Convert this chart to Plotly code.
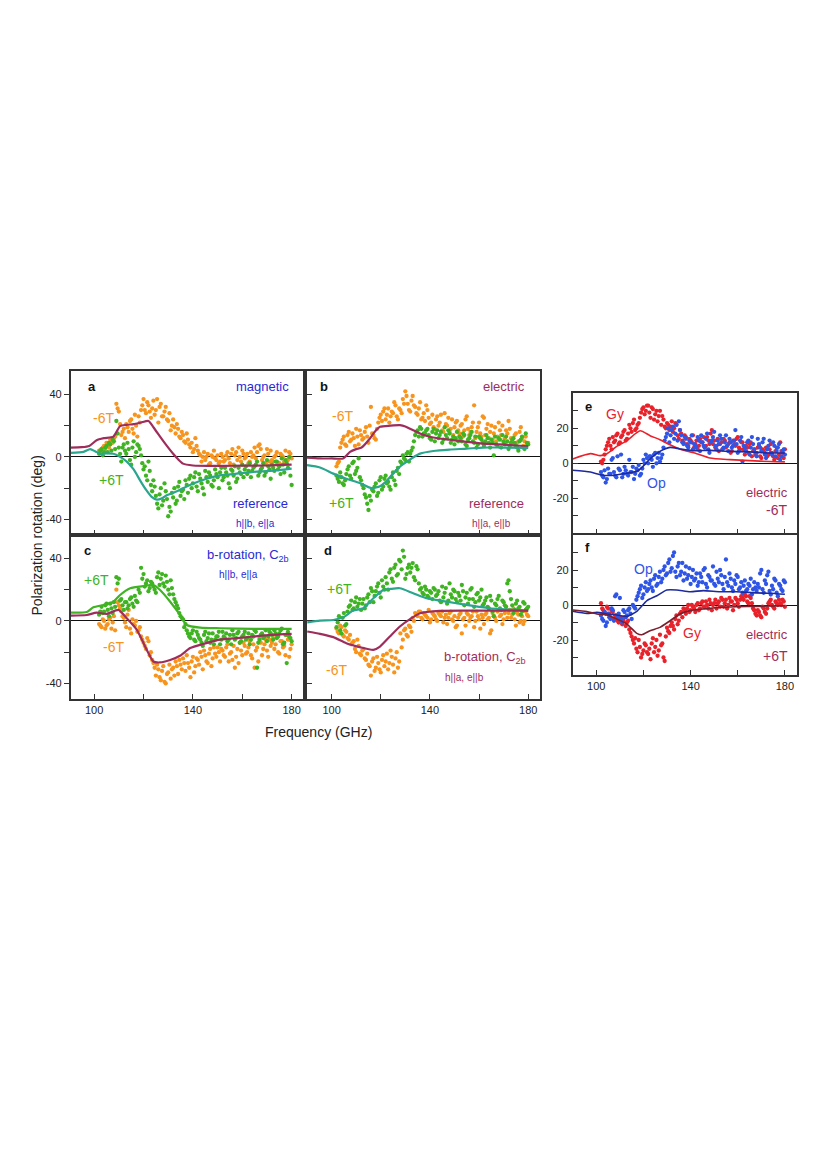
import plotly.graph_objects as go

# ---------------------------------------------------------------------------
# DATA

# measurement frequencies (GHz): whole-GHz readings and the half-GHz readings
freq = [102, 103, 104, 105, 106, 107, 108, 109, 110, 111,
        112, 113, 114, 115, 116, 117, 118, 119, 120, 121,
        122, 123, 124, 125, 126, 127, 128, 129, 130, 131,
        132, 133, 134, 135, 136, 137, 138, 139, 140, 141,
        142, 143, 144, 145, 146, 147, 148, 149, 150, 151,
        152, 153, 154, 155, 156, 157, 158, 159, 160, 161,
        162, 163, 164, 165, 166, 167, 168, 169, 170, 171,
        172, 173, 174, 175, 176, 177, 178, 179, 180]
freq_h = [102.5, 103.5, 104.5, 105.5, 106.5, 107.5, 108.5, 109.5, 110.5, 111.5,
          112.5, 113.5, 114.5, 115.5, 116.5, 117.5, 118.5, 119.5, 120.5, 121.5,
          122.5, 123.5, 124.5, 125.5, 126.5, 127.5, 128.5, 129.5, 130.5, 131.5,
          132.5, 133.5, 134.5, 135.5, 136.5, 137.5, 138.5, 139.5, 140.5, 141.5,
          142.5, 143.5, 144.5, 145.5, 146.5, 147.5, 148.5, 149.5, 150.5, 151.5,
          152.5, 153.5, 154.5, 155.5, 156.5, 157.5, 158.5, 159.5, 160.5, 161.5,
          162.5, 163.5, 164.5, 165.5, 166.5, 167.5, 168.5, 169.5, 170.5, 171.5,
          172.5, 173.5, 174.5, 175.5, 176.5, 177.5, 178.5, 179.5]

# panel a : magnetic / reference
a_m6 = [4, 5, 7, 9, 6, 10, 12, 34, 29, 14,
        18, 21, 16, 24, 15, 20, 26, 30, 37, 28,
        33, 25, 36, 30, 22, 34, 26, 32, 23, 17,
        24, 15, 18, 12, 14, 9, 11, 6, 3, 12,
        4, 1, 0, -2, 2, -4, 0, -1, 1, -3,
        0, -2, 3, -4, 5, 1, -2, 0, 4, -1,
        2, -3, 0, 6, 3, 8, -2, 1, 5, -3,
        -2, 0, 3, -4, 1, -3, -2, 3, -1]
a_m6_h = [3, 6, 5, 8, 11, 9, 13, 31, 21, 16,
          12, 19, 23, 18, 27, 13, 22, 33, 30, 35,
          29, 31, 27, 37, 32, 26, 29, 24, 28, 20,
          19, 21, 13, 16, 10, 15, 8, 9, 5, 7,
          2, -3, 3, 0, -5, 1, 4, -2, -4, 2,
          -3, 1, -1, 2, -5, 3, 6, -3, 2, 0,
          -4, 3, 1, -1, 7, 5, 0, -4, 2, 4,
          -3, 1, -5, 2, 0, 4, -2, 2]
a_p6 = [2, 5, 3, 7, 9, 4, 10, 23, 6, -3,
        8, 2, 5, -5, 10, 3, 7, 1, -8, -12,
        -3, -18, -15, -25, -33, -20, -28, -22, -38, -35,
        -26, -30, -19, -25, -21, -15, -23, -12, -17, -10,
        -22, -14, -20, -9, -16, -12, -19, -8, -13, -10,
        -15, -7, -12, -20, -9, -6, -14, -10, -5, -8,
        -11, -4, -9, -6, -3, -10, -7, -12, -2, -8,
        -5, -9, -3, -6, -1, -10, -4, 0, -18]
a_p6_h = [4, 1, 6, 3, 8, 11, 5, 15, 2, 6,
          4, 9, -2, 6, 0, 8, 5, -4, -6, -15,
          -9, -22, -19, -30, -24, -31, -17, -27, -32, -23,
          -20, -28, -16, -22, -27, -18, -14, -20, -13, -19,
          -11, -17, -24, -13, -10, -18, -15, -11, -20, -7,
          -13, -10, -17, -8, -12, -16, -7, -11, -13, -6,
          -9, -13, -7, -5, -12, -8, -4, -10, -6, -14,
          -7, -3, -8, -11, -5, -2, -7, -12]
a_fit_m6_x = [90.5, 95, 98, 101, 104, 107.8, 110.5, 113, 116, 119, 122, 124,
              126.7, 129, 132, 134, 136, 140, 150, 160, 170, 180]
a_fit_m6_y = [6, 6.2, 7, 10.7, 12, 13, 19.7, 20.5, 21, 22, 23, 19,
              13, 8, 2, -1.5, -4.3, -5.5, -5.8, -5.6, -5.5, -5]
a_fit_p6_x = [90.5, 95.7, 98.4, 100.5, 102.4, 105, 107.8, 110.5, 113.2, 116,
              118.6, 121, 123.3, 125.4, 127.5, 129.4, 132, 134.8, 140.2, 145.6,
              151, 157.8, 164.5, 171.3, 180]
a_fit_p6_y = [2.6, 3.2, 5, 3.5, 2, 2.3, 2, 0, -3, -8,
              -15, -21, -25.6, -27.4, -26.5, -24.6, -23, -21, -17, -14,
              -11.8, -10.7, -9.6, -9, -7.5]

# panel b : electric / reference
b_m6 = [-6, -3, 9, 13, 7, 16, 11, 12, 18, 8,
        14, 12, 19, 9, 32, 14, 11, 22, 27, 29,
        24, 31, 26, 28, 33, 24, 30, 37, 42, 34,
        29, 39, 32, 27, 35, 25, 23, 30, 21, 27,
        18, 26, 22, 17, 28, 20, 16, 24, 19, 23,
        15, 21, 17, 26, 14, 19, 33, 16, 22, 13,
        25, 18, 12, 20, 15, 10, 22, 14, 9, 17,
        23, 12, 8, 15, 10, 19, 7, 13, 9]
b_m6_h = [-4, 6, 11, 8, 14, 10, 15, 7, 13, 17,
          11, 16, 13, 20, 15, 12, 18, 25, 23, 31,
          27, 22, 29, 35, 26, 31, 28, 34, 39, 30,
          36, 33, 28, 31, 24, 28, 33, 25, 22, 19,
          24, 20, 27, 16, 21, 25, 18, 14, 22, 17,
          20, 13, 24, 18, 16, 22, 12, 19, 15, 26,
          14, 21, 16, 11, 19, 13, 17, 20, 12, 15,
          18, 11, 14, 9, 16, 12, 10, 8]
b_p6 = [-12, -16, -13, -18, -11, -6, -14, -3, -9, -1,
        -15, -20, -26, -34, -28, -22, -17, -23, -13, -19,
        -12, -16, -21, -10, -18, -7, -3, 1, -2, 3,
        2, 6, 14, 17, 19, 13, 15, 18, 12, 16,
        10, 17, 14, 9, 19, 12, 15, 11, 8, 16,
        13, 10, 14, 7, 12, 16, 9, 6, 13, 11,
        7, 14, 9, 11, 1, 8, 12, 6, 10, 13,
        5, 9, 12, 7, 4, 11, 6, 15, 8]
b_p6_h = [-14, -10, -17, -15, -8, -12, -4, -11, -7, -13,
          -18, -24, -30, -25, -21, -19, -25, -15, -21, -14,
          -17, -19, -13, -15, -9, -11, -4, -1, 2, -3,
          4, 10, 16, 13, 18, 15, 17, 14, 11, 18,
          15, 12, 16, 11, 14, 17, 9, 13, 12, 10,
          12, 15, 8, 11, 14, 10, 13, 8, 12, 9,
          10, 12, 6, 9, 13, 7, 11, 14, 8, 10,
          7, 11, 9, 6, 10, 13, 5, 9]
b_fit_m6_x = [90, 95, 100, 104.7, 107.5, 110, 112.2, 115.6, 117.5, 119.7, 124, 127.8,
              130, 131.9, 134, 136, 138.5, 141.4, 148, 155, 161.7, 168.5, 175, 180]
b_fit_m6_y = [-0.5, -1, -1, -1, 3.2, 5, 6, 11.8, 16, 19.3, 20, 20.3,
              19.5, 18, 16.5, 15, 13.5, 12.4, 11, 9.6, 8.5, 8, 7.3, 6.8]
b_fit_p6_x = [90, 95.3, 100.7, 106, 111.5, 116.3, 119.7, 122, 125, 128,
              130.5, 133, 136, 141.4, 148, 155, 161.7, 168.5, 180]
b_fit_p6_y = [-5.3, -6.8, -10.7, -14, -16.7, -20, -18.8, -16, -10.7, -6,
              -3.2, -0.5, 2.1, 3.8, 4.7, 5.3, 6, 6, 5.8]

# panel c : b-rotation, h||b e||a
c_p6 = [4, 9, 6, 11, 3, 8, 12, 28, 27, 14,
        7, 12, 10, 15, 9, 13, 20, 34, 30, 24,
        19, 25, 22, 18, 31, 27, 24, 29, 20, 26,
        17, 12, 8, 3, 1, -2, -8, -11, -6, -13,
        -9, -12, -16, -7, -11, -14, -8, -12, -10, -15,
        -7, -11, -13, -9, -6, -12, -8, -14, -10, -7,
        -11, -15, -9, -6, -30, -12, -8, -10, -13, -7,
        -9, -6, -11, -8, -5, -14, -27, -10, -13]
c_p6_h = [6, 5, 10, 7, 11, 5, 9, 24, 13, 10,
          12, 8, 14, 11, 16, 12, 18, 27, 22, 26,
          21, 24, 20, 28, 23, 30, 22, 25, 17, 21,
          14, 10, 5, 2, -4, -6, -10, -8, -12, -7,
          -11, -14, -9, -13, -8, -12, -15, -10, -7, -12,
          -10, -8, -12, -15, -9, -11, -7, -13, -9, -12,
          -8, -12, -10, -7, -14, -9, -11, -6, -10, -8,
          -12, -8, -10, -6, -15, -9, -7, -11]
c_m6 = [-2, -4, 0, -3, 1, -5, 3, 20, 10, 6,
        2, -4, 7, -8, -2, 0, -6, -10, -14, -18,
        -13, -20, -27, -35, -31, -38, -29, -40, -33, -37,
        -30, -26, -34, -28, -24, -32, -27, -36, -23, -29,
        -25, -20, -31, -22, -27, -18, -24, -21, -17, -26,
        -19, -23, -15, -21, -25, -30, -18, -14, -22, -16,
        -20, -13, -24, -30, -17, -11, -22, -15, -19, -12,
        -14, -18, -10, -21, -13, -16, -9, -23, -15]
c_m6_h = [-3, 1, -5, -2, 2, -1, -6, 12, 8, 3,
          -1, 4, -5, 1, -3, -7, -4, -12, -16, -11,
          -22, -25, -30, -28, -36, -32, -39, -34, -28, -31,
          -35, -29, -25, -31, -27, -22, -30, -26, -33, -24,
          -28, -23, -19, -26, -21, -29, -17, -23, -20, -18,
          -22, -17, -26, -20, -16, -23, -27, -19, -14, -21,
          -17, -22, -15, -19, -26, -14, -18, -12, -23, -16,
          -11, -15, -20, -13, -17, -22, -12, -18]
c_fit_p6_x = [90.5, 97, 99.7, 103.8, 107.8, 110.5, 114.6, 120, 124, 126.7,
              130.8, 134.8, 137.5, 143, 151, 164.5, 180]
c_fit_p6_y = [5.3, 5.7, 8.7, 10.2, 12.3, 16.6, 20.9, 22.3, 23, 19.8,
              12.3, 3.8, -2.6, -4.3, -4.7, -5.1, -5.1]
c_fit_m6_x = [90.5, 97, 101, 105, 109.9, 113.2, 117.3, 121.3, 124, 126.7,
              130.8, 134.8, 138.9, 144.3, 151, 157.8, 164.5, 171.3, 180]
c_fit_m6_y = [3.4, 3.8, 5.3, 4.5, 7, 1.7, -5.7, -18.5, -26, -26.6,
              -25, -22.3, -17.4, -14.7, -12, -11, -10, -9, -8.3]

# panel d : b-rotation, h||a e||b
d_p6 = [-4, 3, -8, 5, -2, 9, 13, 8, 15, 11,
        7, 14, 10, 17, 21, 12, 19, 24, 15, 22,
        28, 20, 33, 25, 36, 30, 38, 45, 27, 34,
        31, 37, 26, 33, 20, 18, 22, 16, 19, 14,
        20, 17, 13, 22, 18, 11, 24, 15, 19, 12,
        16, 23, 10, 18, 14, 21, 9, 17, 13, 20,
        11, 15, 8, 13, 3, 10, 16, 7, 12, 9,
        26, 14, 5, 11, 8, 4, 12, 7, 9]
d_p6_h = [-1, -6, 2, -3, 6, 10, 7, 12, 9, 14,
          11, 8, 15, 12, 19, 16, 22, 18, 26, 20,
          24, 31, 27, 34, 29, 39, 33, 41, 30, 36,
          34, 28, 35, 24, 21, 17, 20, 15, 18, 21,
          16, 19, 12, 15, 21, 13, 17, 20, 14, 18,
          13, 19, 15, 11, 20, 14, 12, 18, 15, 10,
          13, 9, 16, 6, 11, 14, 8, 13, 10, 24,
          19, 10, 7, 13, 9, 6, 11, 8]
d_m6 = [-5, -8, -4, -10, -7, -12, -15, -13, -20, -16,
        -22, -18, -25, -28, -35, -24, -30, -27, -33, -22,
        -26, -31, -19, -28, -24, -30, -8, -12, -5, -10,
        -4, 2, 5, 3, 6, 1, 4, 2, -1, 5,
        3, 0, 4, 6, 2, -2, 5, 1, 3, -3,
        4, -8, 2, 5, 0, 3, -4, 6, 1, 4,
        -2, 5, 2, -6, 3, 0, 7, 4, 1, 9,
        5, 2, 8, -3, 4, 0, -2, 6, 3]
d_m6_h = [-7, -3, -9, -6, -11, -9, -14, -18, -12, -21,
          -19, -24, -21, -29, -26, -32, -23, -31, -25, -29,
          -21, -27, -23, -33, -20, -26, -17, -6, -9, -3,
          -7, 0, 4, 6, 2, 5, 3, 7, 1, 4,
          1, 5, 3, -1, 4, 2, 6, 0, -4, 2,
          5, 1, -3, 4, 2, 6, 0, 3, -5, 2,
          4, 1, -8, 5, 2, 6, 3, -2, 5, 2,
          7, 4, 1, 5, -1, 3, 0, 4]
d_fit_p6_x = [90.1, 95.3, 100.7, 104.7, 108.8, 112.9, 117, 121, 124, 127.8,
              133.2, 138.6, 144, 150.8, 157.6, 164.4, 171.2, 180]
d_fit_p6_y = [-0.9, 0.2, 0.6, 2.3, 6.6, 8.1, 14.5, 19.8, 20.5, 20.9,
              17.7, 14.5, 13, 11.3, 9.6, 8.1, 7.4, 6.4]
d_fit_m6_x = [90.1, 95.3, 100.7, 106, 111.5, 117, 119.7, 123.7, 127.8, 131.9,
              136, 144, 155, 180]
d_fit_m6_y = [-6.8, -8.3, -10.4, -14.3, -16.8, -18.5, -16.4, -10, -3.6, 1.1,
              4.9, 6.4, 6.6, 6.6]

# panel e : electric -6T, Gy / Op
e_gy = [1, 2, 8, 12, 10, 15, 13, 17, 12, 16,
        19, 14, 22, 18, 25, 20, 23, 29, 32, 30,
        33, 26, 31, 28, 24, 30, 27, 21, 23, 19,
        24, 20, 22, 14, 17, 12, 15, 10, 13, 16,
        11, 8, 14, 12, 9, 15, 11, 19, 13, 10,
        7, 12, 14, 9, 11, 6, 13, 10, 15, 8,
        12, 5, 9, 11, 4, 8, 6, 10, 3, 7,
        9, 5, 11, 4, 7, 3, 12, 6, 8]
e_gy_h = [0, 5, 10, 14, 8, 12, 16, 11, 15, 18,
          13, 17, 20, 23, 19, 22, 26, 31, 28, 33,
          29, 32, 25, 30, 27, 22, 25, 20, 22, 21,
          18, 23, 16, 19, 13, 16, 11, 14, 12, 9,
          13, 10, 12, 15, 10, 13, 17, 11, 9, 14,
          11, 8, 13, 10, 12, 7, 11, 14, 9, 12,
          8, 10, 6, 12, 7, 5, 9, 4, 8, 6,
          4, 8, 6, 2, 9, 5, 7, 3]
e_op = [-5, -8, -11, -3, -6, 3, -7, 4, -4, -8,
        -2, -6, 2, -5, -9, -3, -1, -6, 2, 5,
        0, 4, -2, 6, 3, 1, 5, 13, 17, 12,
        19, 14, 22, 24, 16, 11, 14, 9, 12, 8,
        10, 15, 7, 12, 9, 17, 6, 13, 18, 8,
        11, 14, 9, 16, 7, 12, 10, 19, 6, 13,
        1, 9, 12, 5, 15, 8, 4, 11, 7, 14,
        3, 10, 6, 12, 4, 9, 2, 7, 5]
e_op_h = [-7, -4, -9, -6, 2, -5, -8, -3, 5, -6,
          -4, -7, -5, -2, -6, -4, -7, -3, 0, 3,
          4, 2, 5, 0, 6, 3, 9, 15, 20, 16,
          21, 17, 13, 19, 12, 15, 10, 13, 16, 11,
          9, 13, 16, 10, 14, 8, 12, 15, 10, 13,
          16, 8, 12, 10, 14, 9, 13, 11, 7, 15,
          10, 7, 13, 9, 11, 6, 14, 9, 12, 5,
          8, 13, 5, 10, 7, 11, 4, 8]
e_fit_gy_x = [90, 97.5, 101.7, 104.5, 108.7, 113, 118.6, 122.8, 127, 131.3,
              137, 142.6, 148.2, 156.7, 165.2, 173.6, 180]
e_fit_gy_y = [2.5, 5.5, 4.4, 5.5, 9.7, 13, 18.6, 15.8, 13.5, 10.6,
              7.4, 5.5, 3, 2.1, 1.5, 1, 0.8]
e_fit_op_x = [90, 97.5, 101.7, 106, 111.6, 117.2, 120, 122.8, 127, 131.3,
              135.5, 141.2, 148.2, 156.7, 165.2, 173.6, 180]
e_fit_op_y = [-4, -5, -6.5, -7, -5.9, -4.6, -1.5, 2.5, 6.8, 9.1,
              8.2, 7.2, 7.4, 6.8, 6.5, 5.9, 5.9]

# panel f : electric +6T, Gy / Op
f_gy = [1, -3, -5, -2, -7, -4, -6, -9, -8, -11,
        -7, -10, -14, -18, -22, -25, -20, -30, -26, -23,
        -28, -31, -19, -24, -29, -17, -22, -32, -13, -16,
        -10, -14, -6, -9, -4, -2, -5, 0, -3, -1,
        -4, 1, -2, 2, -1, 0, 3, -3, 1, -2,
        2, 4, -1, 3, 0, 2, -3, 4, 1, 3,
        4, 6, 2, 5, 1, -3, -6, -4, -7, -2,
        -5, 1, 3, -1, 2, 0, 1, 3, -1]
f_gy_h = [-2, -4, -1, -5, -3, -8, -6, -10, -7, -9,
          -12, -9, -16, -20, -19, -27, -24, -28, -22, -27,
          -25, -22, -27, -20, -26, -23, -30, -18, -15, -12,
          -12, -8, -11, -5, -7, -3, -2, -4, 0, -2,
          0, -3, 1, -1, 2, -2, 1, 0, 3, 1,
          -1, 3, 1, -2, 4, 2, 0, 3, -1, 5,
          3, 5, 1, 4, -2, -5, -3, -6, -1, -4,
          -2, 2, 0, -2, 1, 3, 0, 2]
f_op = [-6, -9, -12, -5, -8, -3, 5, -7, 4, -10,
        -4, -6, -2, -8, -1, 3, 7, 11, 6, 13,
        9, 14, 8, 17, 12, 19, 15, 22, 18, 26,
        21, 30, 16, 24, 19, 14, 22, 17, 12, 20,
        15, 11, 18, 13, 21, 10, 16, 14, 12, 19,
        13, 17, 9, 26, 11, 15, 8, 12, 16, 10,
        7, 14, 9, 11, 6, 13, 8, 10, 20, 7,
        12, 19, 6, 9, 14, 5, 11, 8, 13]
f_op_h = [-8, -4, -10, -7, -2, -9, 6, -5, -8, -3,
          -7, -3, -5, 0, -2, 5, 9, 4, 10, 8,
          12, 10, 15, 11, 16, 13, 20, 17, 24, 19,
          28, 19, 22, 17, 24, 18, 15, 21, 16, 14,
          18, 13, 16, 20, 12, 17, 14, 22, 11, 15,
          20, 12, 16, 13, 18, 10, 14, 17, 9, 13,
          11, 8, 12, 15, 9, 10, 12, 18, 9, 14,
          17, 8, 11, 15, 7, 12, 9, 14]
f_fit_op_x = [90, 96, 100.3, 104.5, 108.7, 113, 117.2, 121.5, 125.7, 129.9,
              134.1, 139.8, 145.4, 152.5, 159.5, 168, 173.6, 180]
f_fit_op_y = [-3.6, -4.8, -4.2, -5.1, -5.7, -6.5, -3.6, 2.5, 5.3, 8.6,
              8.6, 7.6, 8.2, 7.6, 7.6, 6.9, 6.7, 6.1]
f_fit_gy_x = [90, 96, 100.3, 104.5, 108.7, 113, 117.2, 119.3, 122.8, 127,
              131.3, 135.5, 139.8, 145.4, 152.5, 159.5, 168, 180]
f_fit_gy_y = [-2.9, -3.8, -5.1, -5.7, -8, -10.9, -16.2, -17, -14.7, -12.8,
              -9, -5.1, -3.2, -2.3, -1.3, -1, -0.8, -0.4]

# ---------------------------------------------------------------------------
# STYLE

ORANGE = "#f7941d"
GREEN = "#3fb322"
MAROON = "#9e2d5c"
TEAL = "#2aa58e"
BLUE_TXT = "#2a2ad4"
RED = "#e8222b"
BLUE = "#2f55e6"
NAVY = "#1c2a9e"
DARKRED = "#7a1f2e"
FONT = "Liberation Sans, Arial, sans-serif"

W, H = 822, 1163
OFF = 8  # the page body adds an 8px margin around the plot div


def px_x(p):
    return (p - OFF) / W


def px_y(p):
    return 1 - (p - OFF) / H


fig = go.Figure()


def dots(xa, ya, y, y_h, color):
    fig.add_trace(go.Scatter(x=freq + freq_h, y=y + y_h, mode="markers", xaxis=xa, yaxis=ya,
                             marker=dict(size=4.3, color=color), showlegend=False))


def fit(xa, ya, x, y, color, width=2.2):
    fig.add_trace(go.Scatter(x=x, y=y, mode="lines", xaxis=xa, yaxis=ya,
                             line=dict(color=color, width=width, shape="spline", smoothing=0.6),
                             showlegend=False))


# a
dots("x", "y", a_m6, a_m6_h, ORANGE)
dots("x", "y", a_p6, a_p6_h, GREEN)
fit("x", "y", a_fit_m6_x, a_fit_m6_y, MAROON)
fit("x", "y", a_fit_p6_x, a_fit_p6_y, TEAL)
# b
dots("x2", "y2", b_m6, b_m6_h, ORANGE)
dots("x2", "y2", b_p6, b_p6_h, GREEN)
fit("x2", "y2", b_fit_m6_x, b_fit_m6_y, MAROON)
fit("x2", "y2", b_fit_p6_x, b_fit_p6_y, TEAL)
# c
dots("x3", "y3", c_m6, c_m6_h, ORANGE)
dots("x3", "y3", c_p6, c_p6_h, GREEN)
fit("x3", "y3", c_fit_p6_x, c_fit_p6_y, GREEN)
fit("x3", "y3", c_fit_m6_x, c_fit_m6_y, MAROON)
# d
dots("x4", "y4", d_m6, d_m6_h, ORANGE)
dots("x4", "y4", d_p6, d_p6_h, GREEN)
fit("x4", "y4", d_fit_p6_x, d_fit_p6_y, TEAL)
fit("x4", "y4", d_fit_m6_x, d_fit_m6_y, MAROON)
# e
dots("x5", "y5", e_gy, e_gy_h, RED)
dots("x5", "y5", e_op, e_op_h, BLUE)
fit("x5", "y5", e_fit_gy_x, e_fit_gy_y, RED, 1.6)
fit("x5", "y5", e_fit_op_x, e_fit_op_y, NAVY, 1.6)
# f
dots("x6", "y6", f_gy, f_gy_h, RED)
dots("x6", "y6", f_op, f_op_h, BLUE)
fit("x6", "y6", f_fit_op_x, f_fit_op_y, NAVY, 1.6)
fit("x6", "y6", f_fit_gy_x, f_fit_gy_y, DARKRED, 1.6)

# panel boxes in page pixels: left, right, top, bottom
boxes = {
    "": (70.7, 303, 371, 535),
    "2": (307, 540, 371, 535),
    "3": (70.7, 303, 535, 699),
    "4": (307, 540, 535, 699),
    "5": (572.7, 796.7, 393.3, 533.3),
    "6": (572.7, 796.7, 535, 675),
}
xranges = {"": [90.5, 184.6], "2": [90, 184.8], "3": [90.5, 184.6],
           "4": [90, 184.8], "5": [90, 185], "6": [90, 185]}
yranges = {"": [-50, 55], "2": [-50, 55], "3": [-50, 55], "4": [-50, 55],
           "5": [-40, 40], "6": [-40, 40]}

axis_common = dict(showgrid=False, showline=True, linecolor="#333333", linewidth=1.6,
                   mirror=True, tickcolor="#333333", ticklen=5, tickwidth=1,
                   tickfont=dict(family=FONT, size=11, color="#222222"))

for k, (l, r, t, b) in boxes.items():
    xlabels = k in ("3", "4", "6")
    ylabels = k in ("", "3", "5", "6")
    xa = dict(axis_common, domain=[px_x(l), px_x(r)], range=xranges[k],
              anchor="y" + k, zeroline=False, ticks="inside",
              tickvals=[100, 120, 140, 160, 180],
              ticktext=["100", "", "140", "", "180"] if xlabels else [""] * 5)
    if k in ("5", "6"):
        yt = [-30, -20, -10, 0, 10, 20, 30]
        ytt = ["", "-20", "", "0", "", "20", ""]
    else:
        yt = [-40, -20, 0, 20, 40]
        ytt = ["-40", "", "0", "", "40"]
    ya = dict(axis_common, domain=[px_y(b), px_y(t)], range=yranges[k],
              anchor="x" + k, zeroline=True, zerolinecolor="#111111", zerolinewidth=1.4,
              ticks="outside" if k in ("", "3") else "inside",
              tickvals=yt, ticktext=ytt if ylabels else [""] * len(yt))
    fig.update_layout({"xaxis" + k: xa, "yaxis" + k: ya})


def label(k, x, y, text, color, size=13, bold=False, anchor="center"):
    fig.add_annotation(xref="x" + k, yref="y" + k, x=x, y=y,
                       text=("<b>%s</b>" % text) if bold else text,
                       showarrow=False, xanchor=anchor, yanchor="middle",
                       font=dict(family=FONT, size=size, color=color))


label("", 96.5, 45, "a", "#111111", 13, True, "left")
label("", 168.3, 45.3, "magnetic", BLUE_TXT)
label("", 103.6, 24.8, "-6T", ORANGE, 14)
label("", 107.2, -15, "+6T", GREEN, 14)
label("", 167.5, -29.7, "reference", BLUE_TXT)
label("", 165.2, -42.5, "h||b, e||a", BLUE_TXT, 10)

label("2", 94.6, 45, "b", "#111111", 13, True, "left")
label("2", 170, 45.3, "electric", MAROON)
label("2", 104.6, 26.3, "-6T", ORANGE, 14)
label("2", 104, -29.7, "+6T", GREEN, 14)
label("2", 167, -29.7, "reference", MAROON)
label("2", 165, -42.6, "h||a, e||b", MAROON, 10)

label("3", 95, 44.9, "c", "#111111", 13, True, "left")
label("3", 162.3, 42.1, "b-rotation, C<sub>2b</sub>", BLUE_TXT)
label("3", 158.3, 29.4, "h||b, e||a", BLUE_TXT, 10)
label("3", 100.8, 26.2, "+6T", GREEN, 14)
label("3", 107.7, -16.6, "-6T", ORANGE, 14)

label("4", 95.9, 45, "d", "#111111", 13, True, "left")
label("4", 103.4, 20.4, "+6T", GREEN, 14)
label("4", 102, -31.3, "-6T", ORANGE, 14)
label("4", 162.3, -23.6, "b-rotation, C<sub>2b</sub>", MAROON)
label("4", 154.2, -36.4, "h||a, e||b", MAROON, 10)

label("5", 94.4, 32.3, "e", "#111111", 13, True, "left")
label("5", 108, 28.4, "Gy", RED, 14)
label("5", 125.4, -11.2, "Op", BLUE, 14)
label("5", 172.3, -16.9, "electric", MAROON)
label("5", 176.6, -26.8, "-6T", MAROON, 14)

label("6", 94.4, 32.6, "f", "#111111", 13, True, "left")
label("6", 120, 20.6, "Op", BLUE, 14)
label("6", 140.5, -16.2, "Gy", RED, 14)
label("6", 172.3, -17.1, "electric", MAROON)
label("6", 175.8, -29, "+6T", MAROON, 14)

fig.add_annotation(xref="paper", yref="paper", x=px_x(36.5), y=px_y(536),
                   xanchor="center", yanchor="middle",
                   text="Polarization rotation (deg)", textangle=-90, showarrow=False,
                   font=dict(family=FONT, size=14, color="#222222"))
fig.add_annotation(xref="paper", yref="paper", x=px_x(318), y=px_y(732),
                   xanchor="center", yanchor="middle",
                   text="Frequency (GHz)", showarrow=False,
                   font=dict(family=FONT, size=14, color="#222222"))

fig.update_layout(width=W, height=H, margin=dict(l=0, r=0, t=0, b=0),
                  plot_bgcolor="white", paper_bgcolor="white")

fig.write_html("out.html")
